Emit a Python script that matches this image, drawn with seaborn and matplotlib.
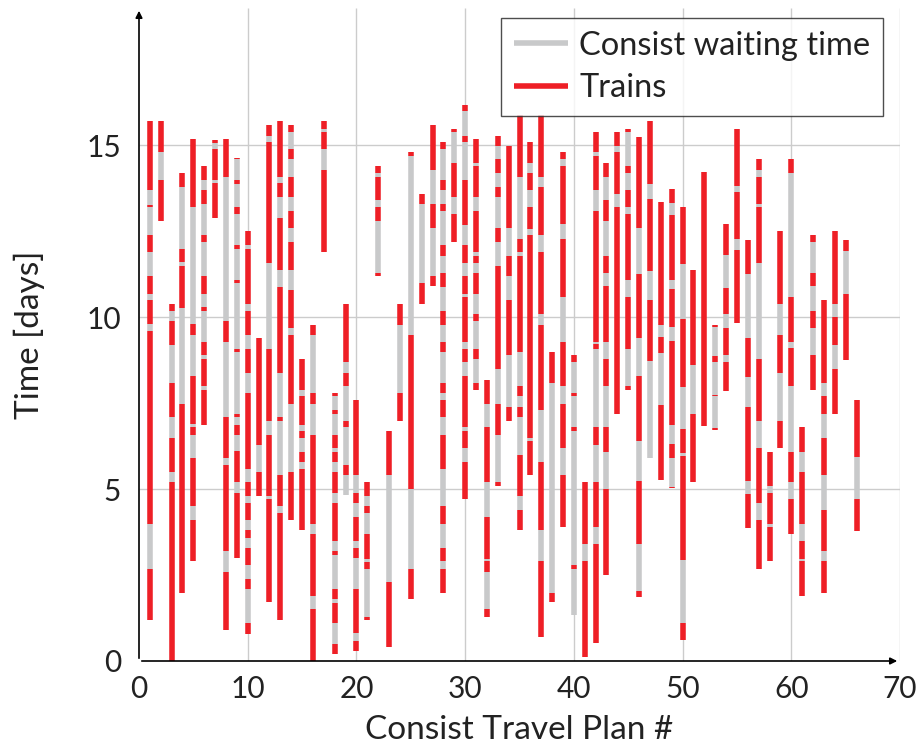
import pandas as pd
import matplotlib
matplotlib.use("Agg")
import matplotlib.pyplot as plt
import seaborn as sns
from matplotlib.lines import Line2D

########################################################################
# data: for each consist travel plan the time breakpoints (days), top
# to bottom. segments alternate train (red) / waiting (gray), red first
########################################################################
plans = list(range(1, 67))
breaks = [
    [15.71, 13.69, 13.27, 13.20, 12.39, 11.89, 11.20, 10.69, 10.49, 9.80, 9.59, 3.99, 2.69, 1.20],
    [15.71, 14.81, 13.99, 12.79],
    [10.39, 10.19, 9.90, 9.19, 8.09, 7.09, 6.50, 5.49, 5.20, 0.0],
    [14.20, 13.79, 12.00, 11.60, 11.50, 10.28, 7.49, 1.99],
    [15.19, 13.20, 9.80, 9.50, 8.28, 6.91, 6.80, 6.59, 5.90, 4.50, 4.09, 2.90],
    [14.41, 13.99, 13.69, 13.29, 12.39, 12.19, 11.20, 10.69, 10.30, 10.19, 9.29, 8.89, 8.79, 8.00, 7.89, 6.88],
    [15.16, 15.06, 14.91, 13.99, 13.90, 12.90],
    [15.19, 14.09, 9.90, 9.29, 7.09, 5.90, 5.69, 3.19, 2.59, 0.89],
    [14.65, 14.60, 13.99, 13.89, 13.20, 13.01, 12.10, 12.00, 11.10, 10.99, 9.08, 9.00, 7.19, 7.09, 6.88, 6.59, 6.11, 5.20, 4.89, 3.00],
    [12.50, 12.10, 12.00, 10.39, 10.19, 9.50, 9.08, 8.39, 7.79, 5.60, 5.20, 4.79, 4.60, 4.09, 3.80, 3.59, 3.30, 2.79, 2.40, 2.10, 1.10, 0.78],
    [9.40, 6.29, 5.49, 4.79],
    [15.59, 15.29, 15.10, 11.59, 9.08, 6.99, 6.59, 4.79, 4.70, 1.71],
    [15.70, 14.09, 13.90, 13.49, 12.90, 11.39, 10.88, 8.39, 7.09, 6.99, 5.40, 4.50, 4.31, 1.20],
    [15.59, 15.39, 14.89, 14.60, 14.09, 13.49, 13.09, 12.60, 12.19, 11.39, 10.80, 9.70, 9.50, 7.49, 5.49, 4.09],
    [8.79, 7.89, 7.70, 6.88, 6.69, 6.50, 6.09, 5.79, 5.60, 3.80],
    [9.79, 9.50, 7.79, 7.49, 6.59, 3.99, 3.69, 1.89, 1.50, 0.0],
    [15.70, 15.49, 15.39, 14.89, 14.30, 11.89],
    [7.79, 7.70, 7.30, 7.19, 6.59, 6.20, 6.09, 5.79, 5.49, 4.89, 4.60, 3.49, 3.19, 3.09, 2.10, 1.79, 1.69, 1.10, 0.49, 0.19],
    [10.39, 8.69, 8.39, 8.00, 6.99, 6.80, 5.69, 5.40, 4.84],
    [7.60, 5.40, 4.89, 4.60, 4.20, 3.49, 3.30, 3.00, 2.10, 0.81, 0.59, 0.30],
    [5.20, 4.79, 4.50, 4.31, 3.69, 2.98, 2.87, 2.69, 1.29, 1.20],
    [14.41, 14.19, 14.09, 13.40, 13.20, 12.79, 11.29, 11.20],
    [6.69, 5.40, 2.29, 0.40],
    [10.39, 9.79, 7.79, 6.99],
    [14.81, 14.70, 9.50, 5.00, 2.69, 1.79],
    [13.60, 13.29, 10.99, 10.39],
    [15.59, 14.30, 13.29, 12.60, 11.20, 10.90],
    [15.10, 14.89, 13.99, 13.69, 13.29, 13.09, 12.10, 11.79, 11.29, 10.88, 10.19, 9.79, 9.29, 9.00, 8.09, 7.79, 7.60, 7.09, 6.59, 5.60, 4.50, 3.99, 3.30, 2.90, 2.69, 1.99],
    [15.49, 15.39, 14.49, 13.49, 13.00, 12.19],
    [16.19, 16.00, 15.29, 15.10, 13.99, 12.69, 12.10, 11.59, 11.20, 10.69, 10.60, 9.29, 9.08, 8.69, 8.28, 6.80, 6.69, 6.20, 5.79, 4.70],
    [15.19, 14.49, 14.41, 13.49, 13.09, 11.89, 11.79, 11.59, 11.29, 10.69, 10.09, 9.90, 9.08, 8.79, 8.09, 7.89],
    [8.19, 7.49, 6.80, 5.20, 4.20, 2.98, 2.90, 2.59, 1.50, 1.29],
    [15.29, 14.99, 14.60, 14.19, 13.79, 13.49, 12.60, 12.19, 11.50, 8.49, 7.49, 6.59, 5.20, 5.10],
    [14.99, 12.60, 11.79, 11.20, 10.49, 8.89, 7.40, 6.99],
    [15.89, 14.09, 12.29, 11.89, 11.79, 9.00, 7.99, 7.70, 7.40, 7.09, 6.00, 4.79, 4.39, 3.80],
    [15.10, 14.49, 14.19, 13.69, 13.20, 12.58, 12.39, 6.50, 6.40, 5.40],
    [15.89, 14.09, 13.79, 12.39, 11.89, 10.09, 9.79, 7.30, 5.79, 3.80, 2.90, 0.70],
    [9.00, 8.09, 1.99, 1.71],
    [14.81, 14.60, 14.41, 12.71, 12.29, 10.60, 9.29, 7.99, 7.49, 6.20, 5.40, 3.90],
    [8.89, 8.69, 7.79, 7.70, 6.80, 6.69, 2.79, 2.69, 1.34],
    [5.20, 3.39, 2.90, 0.11],
    [15.39, 14.81, 14.70, 13.69, 13.09, 9.29, 9.21, 9.08, 6.80, 6.29, 5.20, 3.90, 3.39, 0.51],
    [14.49, 14.09, 13.40, 12.79, 11.79, 11.29, 10.90, 9.29, 8.79, 7.99, 6.80, 6.09, 5.00, 2.50],
    [15.39, 14.99, 14.81, 13.60, 13.20, 7.19],
    [15.49, 15.39, 14.41, 14.19, 13.69, 13.20, 13.00, 11.10, 10.60, 9.08, 7.99, 7.89],
    [15.25, 12.60, 11.25, 9.40, 8.28, 6.40, 5.24, 3.39, 2.03, 1.87],
    [15.72, 13.88, 13.45, 11.35, 10.51, 8.74, 5.90],
    [13.36, 9.77, 9.43, 8.97, 7.44, 5.26],
    [13.73, 13.34, 12.97, 11.10, 10.83, 9.72, 9.32, 6.88, 6.32, 5.90, 5.05, 5.02],
    [13.20, 11.54, 9.96, 7.97, 6.75, 6.04, 5.97, 2.93, 1.10, 0.62],
    [11.39, 8.60, 7.19, 5.20],
    [14.23, 6.85],
    [9.79, 9.72, 8.87, 8.71, 7.75, 7.70, 6.78, 6.71],
    [12.71, 11.81, 10.85, 10.11, 9.70, 8.89, 8.71, 7.86],
    [15.48, 13.82, 13.66, 12.28, 11.96, 9.84],
    [12.24, 11.25, 9.40, 8.25, 7.40, 5.24, 4.86, 3.86],
    [14.60, 14.30, 14.09, 13.30, 13.20, 11.59, 8.79, 6.99, 6.20, 4.60, 4.09, 2.69],
    [6.09, 5.10, 4.89, 3.99, 3.90, 2.90],
    [12.50, 10.39, 9.50, 8.39, 6.99, 6.20],
    [14.60, 14.20, 10.60, 9.29, 9.10, 7.99, 6.09, 5.20, 4.70, 3.69],
    [6.80, 6.09, 5.49, 3.99, 3.49, 2.98, 2.90, 1.89],
    [12.39, 12.19, 11.29, 10.90, 10.19, 9.70, 8.89, 7.89],
    [10.49, 8.09, 7.70, 7.19, 6.50, 5.40, 4.39, 3.19, 2.90, 1.99],
    [12.50, 10.39, 10.00, 9.19, 8.50, 7.19],
    [12.24, 11.94, 10.69, 8.76],
    [7.60, 5.93, 4.70, 3.78],
]
kinds = ["Trains", "Consist waiting time"]
colors = {"Trains": "#ee1f26", "Consist waiting time": "#c8c9ca"}

########################################################################
# long table: two rows per segment
########################################################################
rows = []
seg = 0
for p, b in zip(plans, breaks):
    for i in range(len(b) - 1):
        k = kinds[i % 2]
        rows.append((p, b[i], k, seg))
        rows.append((p, b[i + 1], k, seg))
        seg += 1
df = pd.DataFrame(rows, columns=["plan", "time", "kind", "seg"])

########################################################################
# plot
########################################################################
sns.set_style("white")
plt.rcParams["font.family"] = ["Lato", "DejaVu Sans"]
plt.rcParams["lines.solid_capstyle"] = "butt"
plt.rcParams["text.color"] = "#222222"
plt.rcParams["axes.labelcolor"] = "#222222"

fig = plt.figure(figsize=(9.19, 7.53), dpi=100)
ax = fig.add_axes([139 / 919, 92 / 753, 761 / 919, 653 / 753])

sns.lineplot(data=df, x="plan", y="time", hue="kind", units="seg",
             estimator=None, sort=False, palette=colors, linewidth=4,
             legend=False, ax=ax)

ax.set_xlim(0, 70)
ax.set_ylim(0, 19)
ax.set_xticks(range(0, 71, 10))
ax.set_yticks([0, 5, 10, 15])
for x in range(10, 71, 10):
    ax.axvline(x, color="#cccccc", lw=1, zorder=0)
for y in [5, 10, 15]:
    ax.axhline(y, color="#cccccc", lw=1, zorder=0)

for s in ax.spines.values():
    s.set_visible(False)
ax.annotate("", xy=(0, 1.0), xytext=(0, 0), xycoords="axes fraction",
            arrowprops=dict(arrowstyle="-|>", color="black", lw=1.2, mutation_scale=10))
ax.annotate("", xy=(1.0, 0), xytext=(0, 0), xycoords="axes fraction",
            arrowprops=dict(arrowstyle="-|>", color="black", lw=1.2, mutation_scale=10))

ax.tick_params(axis="both", length=4, width=0.8, color="#555555",
               labelsize=21.5, labelcolor="#222222")
ax.tick_params(axis="x", pad=6)
ax.tick_params(axis="y", pad=9)
ax.set_xlabel("Consist Travel Plan #", fontsize=24, labelpad=9)
ax.set_ylabel("Time [days]", fontsize=24, labelpad=30)

handles = [Line2D([], [], color=colors["Consist waiting time"], lw=4),
           Line2D([], [], color=colors["Trains"], lw=4)]
leg = ax.legend(handles, ["Consist waiting time", "Trains"], loc="upper right",
                bbox_to_anchor=(0.978, 0.985), borderaxespad=0, fontsize=23.5,
                frameon=True, fancybox=False, handlelength=1.65, handletextpad=0.35,
                borderpad=0.4, labelspacing=0.38)
leg.get_frame().set_edgecolor("#222222")
leg.get_frame().set_linewidth(1)

fig.savefig("out.png", dpi=100)
